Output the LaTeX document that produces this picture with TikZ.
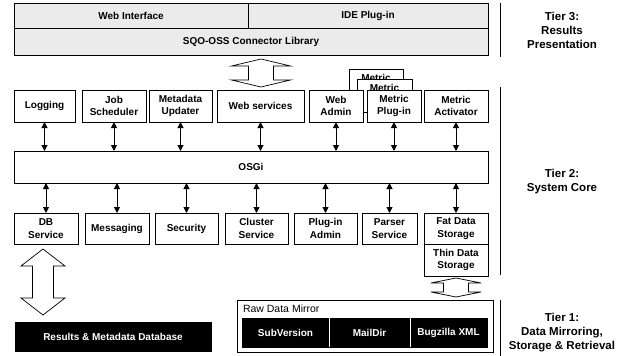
\documentclass[tikz,border=0pt]{standalone}
\usepackage{fontspec}
\setmainfont{Liberation Sans}
\usetikzlibrary{arrows.meta,calc}
\newcommand\boxnode[7]{\node[#2, minimum width={#5-#3}, minimum height={#6-#4}] (#1) at ({(#3+#5)/2},{(#4+#6)/2}) {#7};}
% cx, ytop, ybot, head half width, shaft half width, head height
\newcommand\hollowarr[6]{\draw[harrow] (#1,#2) -- (#1+#4,#2+#6) -- (#1+#5,#2+#6) -- (#1+#5,#3-#6) -- (#1+#4,#3-#6) -- (#1,#3) -- (#1-#4,#3-#6) -- (#1-#5,#3-#6) -- (#1-#5,#2+#6) -- (#1-#4,#2+#6) -- cycle;}
\begin{document}
\begin{tikzpicture}[x=1pt,y=-1pt,
  every node/.style={font=\fontsize{10}{12.6}\selectfont\bfseries, align=center, inner sep=0pt, outer sep=0pt},
  box/.style={draw, line width=0.8pt, fill=white},
  tierbox/.style={draw, line width=0.8pt, fill=black!8},
  blackbox/.style={draw=black, line width=0.8pt, fill=black, text=white},
  link/.style={line width=1pt, {Triangle[width=6pt,length=6pt]}-{Triangle[width=6pt,length=6pt]}},
  harrow/.style={line width=0.7pt, fill=white, draw=black, line join=miter},
  tier/.style={font=\fontsize{11.5}{14}\selectfont\bfseries},
  tierline/.style={line width=0.8pt}]
\useasboundingbox (0,0) rectangle (622,356);

% Tier 3
\boxnode{web}{tierbox}{14}{3}{248}{28}{Web Interface}
\boxnode{ide}{tierbox}{248}{3}{488}{28}{IDE Plug-in}
\boxnode{conn}{tierbox}{14}{28}{488}{55}{SQO-OSS Connector Library}
\hollowarr{261}{59}{87}{29.5}{12.5}{7}

% stacked metric plug-ins (behind)
\boxnode{mp3}{box}{349}{69}{403}{102}{Metric\\Plug-in}
\boxnode{mp2}{box}{357}{79}{412}{112}{Metric\\Plug-in}

% top row
\boxnode{log}{box}{14}{90}{75}{122}{Logging}
\boxnode{job}{box}{82}{90}{146}{122}{Job\\Scheduler}
\boxnode{meta}{box}{149}{90}{212}{122}{Metadata\\Updater}
\boxnode{wsvc}{box}{217}{90}{304}{122}{Web services}
\boxnode{wadm}{box}{309}{90}{363}{122}{Web\\Admin}
\boxnode{mplug}{box}{367}{90}{421}{122}{Metric\\Plug-in}
\boxnode{mact}{box}{424}{90}{488}{122}{Metric\\Activator}

% OSGi
\boxnode{osgi}{box}{14}{151}{488}{183}{OSGi}

% bottom row
\boxnode{db}{box}{14}{213}{78}{244}{DB\\Service}
\boxnode{msg}{box}{85}{213}{149}{244}{Messaging}
\boxnode{sec}{box}{155}{213}{218}{244}{Security}
\boxnode{clu}{box}{225}{213}{288}{244}{Cluster\\Service}
\boxnode{padm}{box}{294}{213}{357}{244}{Plug-in\\Admin}
\boxnode{pars}{box}{362}{213}{417}{244}{Parser\\Service}
\boxnode{fat}{box}{424}{213}{488}{244}{Fat Data\\Storage}
\boxnode{thin}{box}{424}{244}{488}{276}{Thin Data\\Storage}

% links
\foreach \n in {log,job,meta,wsvc,wadm,mplug,mact}
  \draw[link] (\n.south) -- (\n.south |- osgi.north);
\foreach \n in {db,msg,sec,clu,padm,pars,fat}
  \draw[link] (osgi.south -| \n.north) -- (\n.north);

% big arrows
\hollowarr{43}{249}{315}{22}{10.5}{17}
\hollowarr{456}{278}{297}{25}{12.5}{5}

% Results DB
\boxnode{rdb}{blackbox}{15}{322}{211}{351}{Results \& Metadata Database}

% Raw data mirror
\boxnode{raw}{draw, line width=1pt, fill=white}{237}{300}{493}{352}{}
\node[anchor=west, font=\fontsize{10.5}{12}\selectfont] (rawlbl) at (243,309) {Raw Data Mirror};
\boxnode{svn}{blackbox}{242}{318}{329}{347}{SubVersion}
\boxnode{mail}{blackbox}{329}{318}{410}{347}{MailDir}
\boxnode{bugz}{blackbox}{410}{318}{487}{347}{Bugzilla XML}
\draw[white, line width=0.6pt] (svn.north east) -- (svn.south east);
\draw[white, line width=0.6pt] (mail.north east) -- (mail.south east);

% tier dividers
\draw[tierline] (500,3) -- (500,57);
\draw[tierline] (500,87) -- (500,275);
\draw[tierline] (500,300) -- (500,356);

% tier labels
\node[tier] (t3) at (562,30) {Tier 3:\\Results\\Presentation};
\node[tier] (t2) at (562,182) {Tier 2:\\System Core};
\node[tier] (t1) at (562,333) {Tier 1:\\Data Mirroring,\\Storage \& Retrieval};
\end{tikzpicture}
\end{document}
